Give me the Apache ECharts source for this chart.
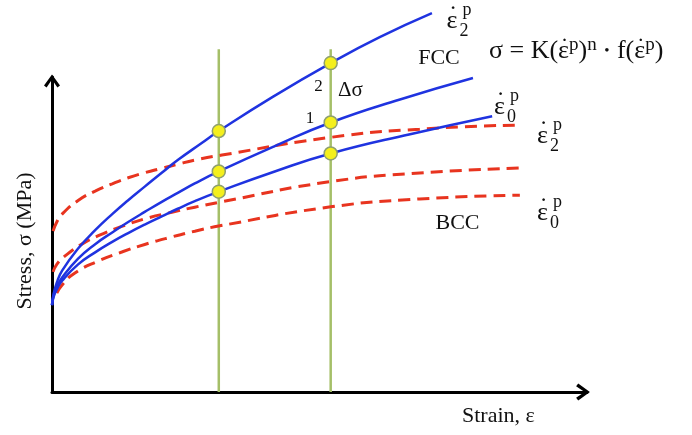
<!DOCTYPE html>
<html>
<head>
<meta charset="utf-8">
<script src="https://cdn.jsdelivr.net/npm/echarts@6/dist/echarts.min.js"></script>
<style>
html,body{margin:0;padding:0;background:#ffffff;}
#chart{width:692px;height:435px;}
</style>
</head>
<body>
<div id="chart"></div>
<script>
// ---- Data (strain, stress in arbitrary units) ----
// FCC curves (blue, solid)
const fccRate2 = [[0,27.5],[0.3,31.0],[0.9,34.6],[1.9,38.4],[4.9,45.4],[8.1,51.2],[11.3,56.3],[14.3,60.7],[17.4,65.0],[20.6,69.4],[23.6,73.4],[28.1,78.8],[31.3,82.6],[41.5,93.5],[52.3,104.1],[61.5,112.3],[71.3,119.9]];
const fccRate1 = [[0,27.5],[0.3,30.6],[0.9,33.3],[1.9,36.2],[4.9,42.2],[8.1,46.8],[11.3,50.5],[14.3,53.8],[17.4,57.0],[20.6,60.2],[23.6,63.0],[26.8,66.0],[31.3,69.8],[41.8,77.8],[52.3,85.3],[65.3,92.6],[79.0,99.4]];
const fccRate0 = [[0,27.5],[0.3,30.1],[0.9,32.5],[1.9,35.2],[4.9,40.4],[8.1,44.2],[11.3,47.5],[14.3,50.3],[17.4,53.0],[20.6,55.6],[23.6,58.0],[26.8,60.4],[31.3,63.4],[41.8,69.8],[52.3,75.5],[67.2,81.6],[82.6,87.3]];
// BCC curves (red, dashed)
const bccRate2 = [[0.2,50.9],[0.9,53.8],[1.9,56.3],[4.9,60.6],[8.1,63.6],[11.3,65.9],[14.3,67.8],[17.4,69.4],[20.6,70.8],[23.6,72.1],[26.8,73.4],[31.9,75.0],[52.3,80.6],[69.0,83.2],[87.8,84.5]];
const bccRate1 = [[0.2,38.0],[0.9,40.4],[2.4,43.0],[5.6,46.8],[8.6,49.4],[13.1,52.4],[17.4,54.8],[22.5,56.9],[26.8,58.5],[31.5,60.1],[52.3,66.6],[69.0,69.3],[87.8,70.9]];
const bccRate0 = [[0.9,31.3],[1.9,33.9],[4.3,37.7],[8.6,41.4],[13.1,44.3],[17.4,46.7],[22.5,49.1],[26.8,50.9],[31.5,52.6],[52.3,58.6],[69.0,61.1],[87.8,62.3]];
// Vertical strain markers and intersection points
const markerStrains = [31.3, 52.3];
const markerTop = 108.5;
const dotStrains = [31.3, 31.3, 31.3, 52.3, 52.3, 52.3];
const dotStresses = [82.6, 69.8, 63.4, 104.1, 85.3, 75.5];

const FONT = '"Liberation Serif", "Times New Roman", serif';
const BLUE = '#1f33e0';
const RED = '#e8341f';
const GREEN = '#a5bf68';
const ARROW = 'path://M8,0 L16,11 L13.4,13 L8,5 L2.6,13 L0,11 Z';

function curve(data, color, dashed) {
  return {
    type: 'line', data: data, symbol: 'none', showSymbol: false,
    smooth: 0.5, clip: false, silent: true,
    lineStyle: { color: color, width: dashed ? 3 : 2.5, type: dashed ? [12, 7] : 'solid', cap: 'butt' },
    z: dashed ? 3 : 4
  };
}

function txt(x, y, text, size, align, extra) {
  const el = {
    type: 'text', x: x, y: y, silent: true, z: 100,
    style: {
      text: text, fill: '#111111',
      font: size + 'px ' + FONT, fontSize: size, fontFamily: FONT,
      align: align || 'center', verticalAlign: 'middle',
      textAlign: align || 'center', textVerticalAlign: 'middle'
    }
  };
  if (extra) Object.assign(el, extra);
  return el;
}

function rateLabel(cx, cy, sub) {
  return [
    txt(cx, cy, 'ε', 26),
    txt(cx + 1, cy - 5, '˙', 26),
    txt(cx + 15, cy - 11, 'p', 18),
    txt(cx + 12, cy + 10, sub, 18)
  ];
}

const markerSeries = markerStrains.map(function (s) {
  return {
    type: 'line', data: [[s, 0], [s, markerTop]], symbol: 'none', clip: false, silent: true,
    lineStyle: { color: GREEN, width: 2.5 }, z: 1
  };
});

// Equation, built from rich-text tokens; the dots over ε are placed from measured widths
const EQ_X = 489, EQ_Y = 51;
const EQ_M = 26, EQ_S = 19, EQ_B = 15;
const measureCtx = document.createElement('canvas').getContext('2d');
function tw(s, size) { measureCtx.font = size + 'px ' + FONT; return measureCtx.measureText(s).width; }
const eq = {
  type: 'text', x: EQ_X, y: EQ_Y, silent: true, z: 100,
  style: {
    text: '{m|σ = K(ε}{s|p}{m|)}{s|n}{b|  •  }{m|f(ε}{s|p}{m|)}',
    fill: '#111111', align: 'left', verticalAlign: 'middle', textAlign: 'left', textVerticalAlign: 'middle',
    rich: {
      m: { fontSize: EQ_M, fontFamily: FONT, lineHeight: 30, fill: '#111111' },
      s: { fontSize: EQ_S, fontFamily: FONT, lineHeight: 13, verticalAlign: 'top', fill: '#111111' },
      b: { fontSize: EQ_B, fontFamily: FONT, lineHeight: 30, fill: '#111111' }
    }
  }
};
const eps1 = EQ_X + tw('σ = K(', EQ_M) + tw('ε', EQ_M) / 2;
const eps2 = EQ_X + tw('σ = K(ε', EQ_M) + tw('p', EQ_S) + tw(')', EQ_M) + tw('n', EQ_S) +
             tw('  •  ', EQ_B) + tw('f(', EQ_M) + tw('ε', EQ_M) / 2;

const graphics = [].concat(
  rateLabel(452, 21, '2'),
  rateLabel(499.5, 107, '0'),
  rateLabel(542.5, 136.5, '2'),
  rateLabel(542.5, 213.5, '0'),
  [
    txt(439, 58.5, 'FCC', 22),
    txt(457.5, 223.5, 'BCC', 22),
    txt(318.5, 87, '2', 17),
    txt(310, 119, '1', 17),
    txt(350.5, 90, 'Δσ', 21),
    txt(462, 416, 'Strain, ε', 22, 'left'),
    txt(25, 241, 'Stress, σ (MPa)', 22, 'center', { rotation: Math.PI / 2 }),
    eq,
    txt(eps1 + 1, EQ_Y - 3, '˙', 24),
    txt(eps2 + 1, EQ_Y - 3, '˙', 24)
  ]
);

const chart = echarts.init(document.getElementById('chart'), null, { renderer: 'canvas' });
chart.setOption({
  animation: false,
  backgroundColor: '#ffffff',
  grid: { left: 52, right: 105, top: 77, bottom: 43, containLabel: false },
  xAxis: {
    type: 'value', min: 0, max: 100.4,
    axisLine: { show: true, onZero: false, lineStyle: { color: '#000000', width: 3 },
      symbol: ['none', ARROW], symbolSize: [17, 14], symbolOffset: [0, -4] },
    axisTick: { show: false }, axisLabel: { show: false }, splitLine: { show: false }
  },
  yAxis: {
    type: 'value', min: 0, max: 99.7,
    axisLine: { show: true, onZero: false, lineStyle: { color: '#000000', width: 3 },
      symbol: ['none', ARROW], symbolSize: [16, 13], symbolOffset: [0, -4] },
    axisTick: { show: false }, axisLabel: { show: false }, splitLine: { show: false }
  },
  series: [].concat(markerSeries, [
    curve(bccRate2, RED, true),
    curve(bccRate1, RED, true),
    curve(bccRate0, RED, true),
    curve(fccRate2, BLUE, false),
    curve(fccRate1, BLUE, false),
    curve(fccRate0, BLUE, false),
    {
      type: 'scatter', clip: false, silent: true, z: 6,
      data: dotStrains.map(function (s, i) { return [s, dotStresses[i]]; }),
      symbol: 'circle', symbolSize: 13,
      itemStyle: { color: '#f4ef1d', borderColor: '#8e9f6e', borderWidth: 1.5, opacity: 1 }
    }
  ]),
  graphic: { elements: graphics }
});
</script>
</body>
</html>
